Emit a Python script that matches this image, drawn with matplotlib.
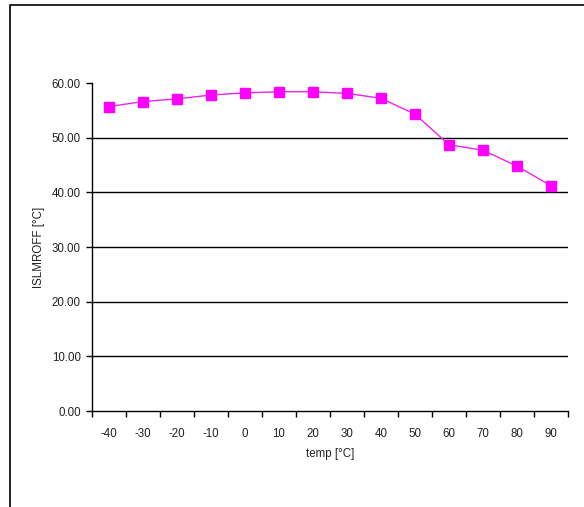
import matplotlib
matplotlib.use("Agg")
import matplotlib.pyplot as plt
from matplotlib.patches import Rectangle
import numpy as np

categories = ["-40", "-30", "-20", "-10", "0", "10", "20", "30", "40", "50", "60", "70", "80", "90"]
values = [55.7, 56.6, 57.1, 57.8, 58.2, 58.4, 58.4, 58.1, 57.2, 54.3, 48.7, 47.7, 44.8, 41.2]
yticks = [0, 10, 20, 30, 40, 50, 60]

plt.rcParams['font.family'] = ['Liberation Sans', 'DejaVu Sans']
W, H = 584, 507
fig = plt.figure(figsize=(W/100, H/100), dpi=100)
fig.patch.set_facecolor('white')

# outer frame
fig.add_artist(Rectangle((10/W, -0.1), 1.2, (H-5)/H + 0.1, transform=fig.transFigure,
                         fill=False, edgecolor='black', linewidth=1.2))

ax = fig.add_axes([92/W, 1-411/H, (568-92)/W, (411-83)/H])
x = np.arange(len(categories))
ax.plot(x, values, color='#EE22EE', linewidth=1.0, marker='s', markersize=7,
        markerfacecolor='#FF00FF', markeredgecolor='#FF00FF', zorder=3)

ax.set_xlim(-0.5, len(categories) - 0.5)
ax.set_ylim(0, 60)
ax.set_yticks(yticks)
ax.set_yticklabels([f"{v:.2f}" for v in yticks], fontsize=8.3, color='#222222')
for v in yticks[1:-1]:
    ax.axhline(v, color='black', linewidth=1.0, zorder=1)

ax.set_xticks(x)
ax.set_xticklabels(categories, fontsize=8.3, color='#222222')
ax.tick_params(axis='x', which='major', length=0, pad=12)
ax.set_xticks(np.arange(-0.5, len(categories)), minor=True)
ax.tick_params(axis='x', which='minor', length=4, width=1, color='black')
ax.tick_params(axis='y', length=4, width=1, color='black', pad=4)

for s in ['top', 'right']:
    ax.spines[s].set_visible(False)
for s in ['left', 'bottom']:
    ax.spines[s].set_linewidth(1.0)
    ax.spines[s].set_color('black')

ax.set_xlabel("temp [°C]", fontsize=8.3, color='#222222', labelpad=6)
ax.set_ylabel("ISLMROFF [°C]", fontsize=8.3, color='#222222', labelpad=5)

fig.savefig("out.png", dpi=100, facecolor='white')
